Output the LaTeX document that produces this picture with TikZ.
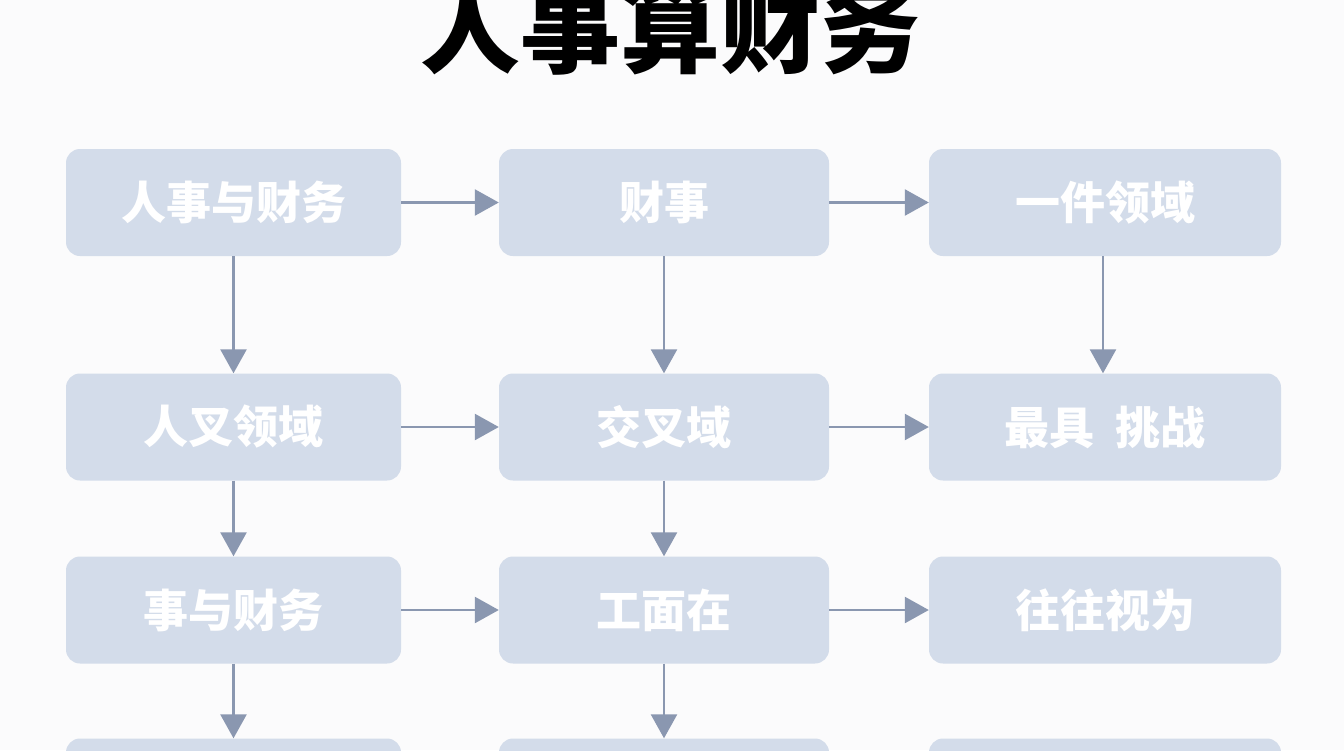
\documentclass[tikz,border=0pt]{standalone}
\usepackage{fontspec}
\setmainfont{Noto Sans CJK SC}
\newfontfamily\cjk{Noto Sans CJK SC}
\usetikzlibrary{arrows.meta}
\definecolor{boxfill}{HTML}{D3DCEA}
\definecolor{arrowc}{HTML}{8A97B0}
\definecolor{bgc}{HTML}{FBFBFC}
\tikzset{
  stepbox/.style={fill=boxfill, draw=none, rounded corners=14pt, minimum height=107pt, inner sep=0pt, text=white, font=\cjk\bfseries\fontsize{45}{47}\selectfont},
  c1/.style={minimum width=335pt},
  c2/.style={minimum width=330pt},
  c3/.style={minimum width=352pt},
  flow/.style={draw=arrowc, line width=2.6pt, -{Triangle[length=24pt,width=26pt]}, arrowc, shorten >=0pt},
}
\begin{document}
\begin{tikzpicture}[x=1pt,y=-1pt]
\useasboundingbox (0,0) rectangle (1344,750);
\clip (0,0) rectangle (1344,750);
\fill[bgc] (0,0) rectangle (1344,750);
\node[font=\cjk\bfseries\fontsize{100}{104}\selectfont, text=black] (title) at (670,27) {人事算财务};
% row 1
\node[stepbox,c1] (a1) at (233.5,202.5) {人事与财务};
\node[stepbox,c2] (b1) at (664,202.5) {财事};
\node[stepbox,c3] (d1) at (1105,202.5) {一件领域};
% row 2
\node[stepbox,c1] (a2) at (233.5,427) {人叉领域};
\node[stepbox,c2] (b2) at (664,427) {交叉域};
\node[stepbox,c3] (d2) at (1105,427) {最具\ \ 挑战};
% row 3
\node[stepbox,c1] (a3) at (233.5,610) {事与财务};
\node[stepbox,c2] (b3) at (664,610) {工面在};
\node[stepbox,c3] (d3) at (1105,610) {往往视为};
% row 4
\node[stepbox,c1] (a4) at (233.5,792) {};
\node[stepbox,c2] (b4) at (664,792) {};
\node[stepbox,c3] (d4) at (1105,792) {};
% horizontal
\draw[flow] (a1.east) -- (b1.west);
\draw[flow] (b1.east) -- (d1.west);
\draw[flow] (a2.east) -- (b2.west);
\draw[flow] (b2.east) -- (d2.west);
\draw[flow] (a3.east) -- (b3.west);
\draw[flow] (b3.east) -- (d3.west);
% vertical
\draw[flow] (a1.south) -- (a2.north);
\draw[flow] (b1.south) -- (b2.north);
\draw[flow] ([xshift=-2pt]d1.south) -- ([xshift=-2pt]d2.north);
\draw[flow] (a2.south) -- (a3.north);
\draw[flow] (b2.south) -- (b3.north);
\draw[flow] (a3.south) -- (a4.north);
\draw[flow] (b3.south) -- (b4.north);
\end{tikzpicture}
\end{document}
